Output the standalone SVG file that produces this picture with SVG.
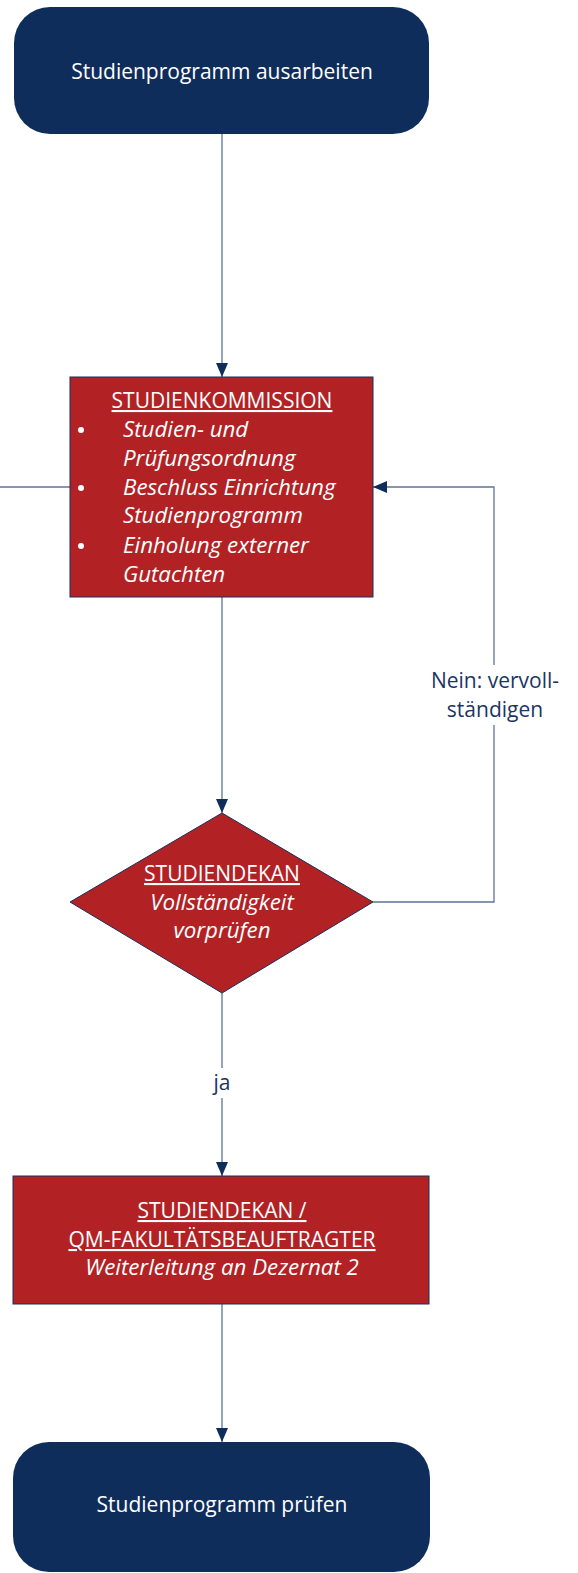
<svg xmlns="http://www.w3.org/2000/svg" width="578" height="1573" viewBox="0 0 578 1573">
<style>
.term{fill:#0f2d5b;}
.proc{fill:#b22225;stroke:#1a2f5a;stroke-width:1;}
.t{font-family:"Open Sans","DejaVu Sans",sans-serif;font-size:21px;fill:#ffffff;text-anchor:middle;}
.it{font-style:italic;font-size:22.3px;}
.ti{font-family:"Open Sans","DejaVu Sans",sans-serif;font-size:22.3px;fill:#ffffff;font-style:italic;}
.u{text-decoration:underline;}
.lbl{font-family:"Open Sans","DejaVu Sans",sans-serif;font-size:21px;fill:#1b3563;text-anchor:middle;}
.c{fill:none;stroke:#5f7396;stroke-width:1.3;}
</style>
<defs>
<marker id="ah" markerWidth="14" markerHeight="12" refX="14" refY="6" orient="auto" markerUnits="userSpaceOnUse">
<path d="M0,0 L14,6 L0,12 Z" fill="#0f2d5b"/>
</marker>
</defs>
<g id="connectors">
<path class="c" d="M222,134 V377" marker-end="url(#ah)"/>
<path class="c" d="M222,597 V813" marker-end="url(#ah)"/>
<path class="c" d="M373,902 H494 V725"/>
<path class="c" d="M494,665 V487 H373" marker-end="url(#ah)"/>
<path class="c" d="M0,487 H70"/>
<path class="c" d="M222,993 V1068"/>
<path class="c" d="M222,1098 V1176" marker-end="url(#ah)"/>
<path class="c" d="M222,1304 V1442" marker-end="url(#ah)"/>
<text class="lbl" x="495" y="688">Nein: vervoll-</text>
<text class="lbl" x="495" y="717">ständigen</text>
<text class="lbl" x="222" y="1090">ja</text>
</g>
<g id="start">
<rect class="term" x="14" y="7" width="415" height="127" rx="36"/>
<text class="t" x="222" y="79" font-size="20.6">Studienprogramm ausarbeiten</text>
</g>
<g id="kommission">
<rect class="proc" x="70" y="377" width="303" height="220"/>
<text class="t u" x="222" y="408">STUDIENKOMMISSION</text>
<circle cx="81" cy="430" r="3" fill="#fff"/>
<circle cx="81" cy="488" r="3" fill="#fff"/>
<circle cx="81" cy="546" r="3" fill="#fff"/>
<text class="ti" x="123" y="437">Studien- und</text>
<text class="ti" x="123" y="466">Prüfungsordnung</text>
<text class="ti" x="123" y="495">Beschluss Einrichtung</text>
<text class="ti" x="123" y="523">Studienprogramm</text>
<text class="ti" x="123" y="553">Einholung externer</text>
<text class="ti" x="123" y="582">Gutachten</text>
</g>
<g id="decision">
<polygon class="proc" points="222,813 373,902 222,993 70,902"/>
<text class="t u" x="222" y="881">STUDIENDEKAN</text>
<text class="t it" x="222" y="910">Vollständigkeit</text>
<text class="t it" x="222" y="938">vorprüfen</text>
</g>
<g id="weiterleitung">
<rect class="proc" x="13" y="1176" width="416" height="128"/>
<text class="t u" x="222" y="1218">STUDIENDEKAN /</text>
<text class="t u" x="222" y="1247">QM-FAKULTÄTSBEAUFTRAGTER</text>
<text class="t it" x="222" y="1275">Weiterleitung an Dezernat 2</text>
</g>
<g id="end">
<rect class="term" x="13" y="1442" width="417" height="130" rx="36"/>
<text class="t" x="222" y="1512">Studienprogramm prüfen</text>
</g>
</svg>
